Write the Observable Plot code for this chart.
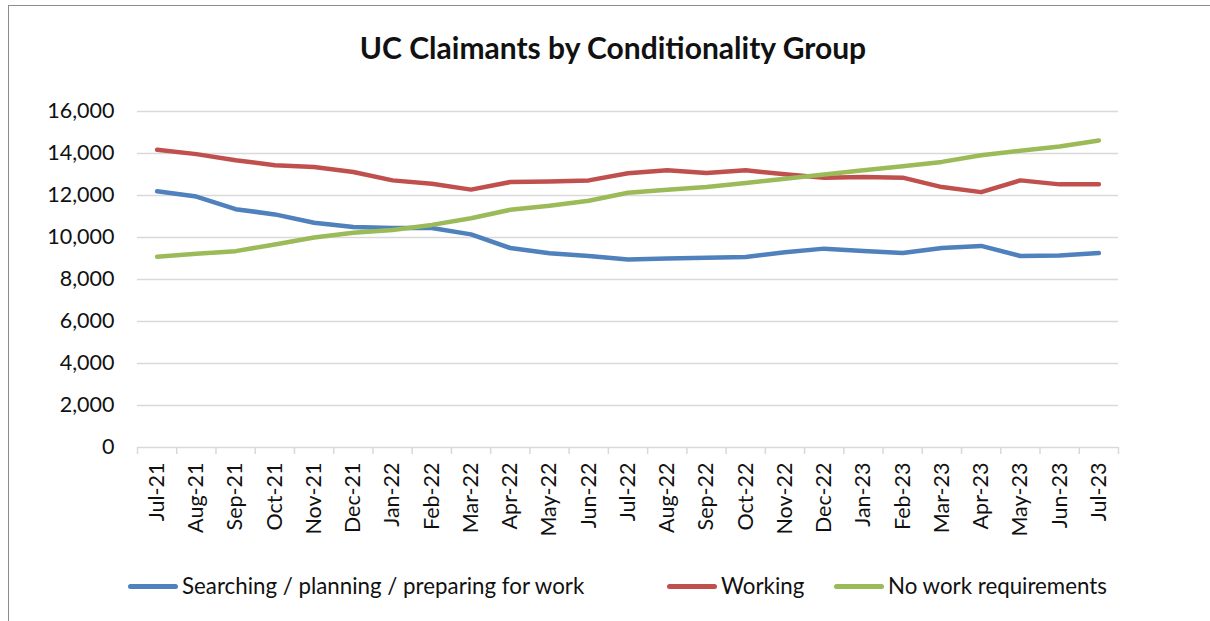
<!DOCTYPE html>
<html>
<head>
<meta charset="utf-8">
<script src="https://cdn.jsdelivr.net/npm/d3@7"></script>
<script src="https://cdn.jsdelivr.net/npm/@observablehq/plot@0.6"></script>
<style>
html, body { margin: 0; padding: 0; background: #fff; }
body { width: 1210px; height: 621px; overflow: hidden; position: relative; font-family: Lato, "Open Sans", sans-serif; color: #111; }
#frame { position: absolute; left: 8px; top: 5px; width: 1300px; height: 700px; border-top: 1.5px solid #8c8c8c; border-left: 1.5px solid #8c8c8c; }
#title { position: absolute; left: 0; width: 1226px; top: 30px; text-align: center; font-weight: 700; font-size: 30px; line-height: 34px; }
#chart { position: absolute; left: 0; top: 0; }
.item { position: absolute; top: 574px; height: 24px; display: flex; align-items: center; font-size: 22.3px; line-height: 24px; white-space: nowrap; }
.sw { width: 50px; height: 5px; border-radius: 3px; margin-right: 4px; margin-left: 2px; }
</style>
</head>
<body>
<div id="frame"></div>
<div id="title">UC Claimants by Conditionality Group</div>
<div id="chart"></div>
<div id="legend"></div>
<script>
const months = ["Jul-21","Aug-21","Sep-21","Oct-21","Nov-21","Dec-21","Jan-22","Feb-22","Mar-22","Apr-22","May-22","Jun-22","Jul-22","Aug-22","Sep-22","Oct-22","Nov-22","Dec-22","Jan-23","Feb-23","Mar-23","Apr-23","May-23","Jun-23","Jul-23"];
const searching = [12200, 11950, 11350, 11100, 10700, 10500, 10450, 10450, 10150, 9500, 9250, 9120, 8950, 9000, 9040, 9070, 9300, 9470, 9360, 9260, 9500, 9600, 9120, 9140, 9260];
const working = [14180, 13970, 13680, 13440, 13360, 13120, 12720, 12560, 12280, 12640, 12670, 12720, 13060, 13200, 13070, 13200, 13010, 12850, 12880, 12850, 12400, 12160, 12720, 12530, 12530];
const noWork = [9080, 9230, 9350, 9670, 10000, 10230, 10360, 10600, 10920, 11320, 11510, 11750, 12130, 12270, 12400, 12590, 12800, 13000, 13200, 13390, 13600, 13920, 14130, 14330, 14620];
const seriesNames = ["Searching / planning / preparing for work", "Working", "No work requirements"];
const colors = ["#4f81bd", "#c0504d", "#9bbb59"];
const yTicks = [0, 2000, 4000, 6000, 8000, 10000, 12000, 14000, 16000];

const rows = [];
[searching, working, noWork].forEach((vals, s) =>
  vals.forEach((v, i) => rows.push({i, month: months[i], value: v, series: seriesNames[s]})));

const plot = Plot.plot({
  width: 1210,
  height: 621,
  marginLeft: 137,
  marginRight: 92,
  marginTop: 111,
  marginBottom: 174,
  style: {fontFamily: "Lato, 'Open Sans', sans-serif", fontSize: "21.5px", color: "#111", background: "transparent", overflow: "visible"},
  x: {type: "linear", domain: [-0.5, months.length - 0.5], label: null},
  y: {domain: [0, 16000], label: null},
  color: {domain: seriesNames, range: colors},
  marks: [
    Plot.gridY(yTicks.filter(d => d > 0), {stroke: "#d9d9d9", strokeOpacity: 1, strokeWidth: 1.5}),
    Plot.ruleY([0], {stroke: "#d9d9d9", strokeWidth: 1.5}),
    Plot.axisX(d3.range(-0.5, months.length, 1), {tickSize: 7, tickFormat: () => "", stroke: "#d9d9d9", strokeWidth: 1.5, label: null}),
    Plot.axisX(d3.range(months.length), {tickSize: 0, tickPadding: 15, tickRotate: -90, tickFormat: i => months[i], label: null}),
    Plot.axisY(yTicks, {tickSize: 0, tickPadding: 23, tickFormat: d3.format(","), label: null}),
    Plot.line(rows, {x: "i", y: "value", z: "series", stroke: "series", strokeWidth: 4.5, strokeLinecap: "round", strokeLinejoin: "round"})
  ]
});
document.getElementById("chart").appendChild(plot);

const legendX = [126, 665, 832];
const legend = document.getElementById("legend");
seriesNames.forEach((name, k) => {
  const item = document.createElement("div");
  item.className = "item";
  item.style.left = legendX[k] + "px";
  const sw = document.createElement("div");
  sw.className = "sw";
  sw.style.background = colors[k];
  const t = document.createElement("span");
  t.textContent = name;
  item.appendChild(sw);
  item.appendChild(t);
  legend.appendChild(item);
});
</script>
</body>
</html>
